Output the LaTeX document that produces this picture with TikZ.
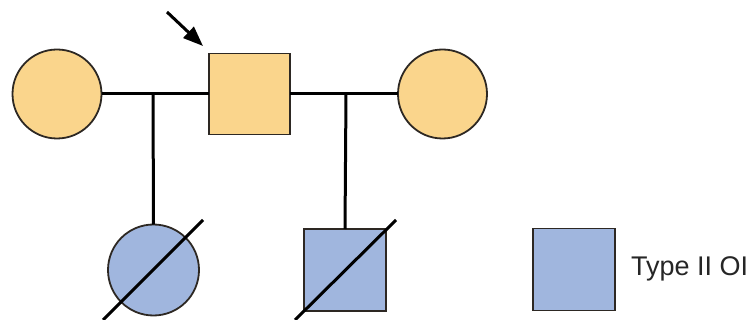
\documentclass[tikz,border=0pt]{standalone}
\usepackage{fontspec}
\setmainfont{Liberation Sans}
\usetikzlibrary{arrows.meta}
\definecolor{carrier}{RGB}{250,213,140}
\definecolor{affected}{RGB}{160,182,222}
\definecolor{outline}{RGB}{45,40,35}
\begin{document}
\begin{tikzpicture}[x=1pt,y=-1pt,
  person/.style={draw=outline,line width=1.8pt,inner sep=0pt,outer sep=0pt},
  female/.style={person,circle,minimum size=89pt},
  male/.style={person,rectangle,minimum size=81pt},
  link/.style={draw=black,line width=3pt},
  deceased/.style={draw=black,line width=3pt}]
\useasboundingbox (0,0) rectangle (749,320);
% parents
\node[female,fill=carrier] (m1) at (57,94) {};
\node[male,fill=carrier] (f) at (249.5,94) {};
\node[female,fill=carrier] (m2) at (442.5,94) {};
% marriage lines and descent points
\coordinate (d1) at (153,94);
\coordinate (d2) at (346,94);
\draw[link] (m1.east) -- (f.west);
\draw[link] (f.east) -- (m2.west);
% children
\node[female,fill=affected,minimum size=91pt] (c1) at (153.5,270) {};
\node[male,fill=affected,minimum size=82pt] (c2) at (345,270) {};
\draw[link] (d1) -- (c1.north);
\draw[link] (d2) -- (c2.north);
% deceased markers
\coordinate (s1a) at (103,320);
\coordinate (s1b) at (203,220);
\coordinate (s2a) at (295,320);
\coordinate (s2b) at (396,220);
\draw[deceased] (s1a) -- (s1b);
\draw[deceased] (s2a) -- (s2b);
% proband arrow
\coordinate (pa) at (167,12);
\coordinate (pb) at (203,46);
\draw[line width=3pt,-{Triangle[length=20pt,width=15pt]}] (pa) -- (pb);
% legend
\node[male,fill=affected,minimum size=82pt] (key) at (574,269.5) {};
\node[anchor=west,font=\fontsize{27}{32}\selectfont,text=black!85,inner sep=0pt] (keytext) at ([xshift=16pt,yshift=1pt]key.east) {Type II OI};
\end{tikzpicture}
\end{document}
